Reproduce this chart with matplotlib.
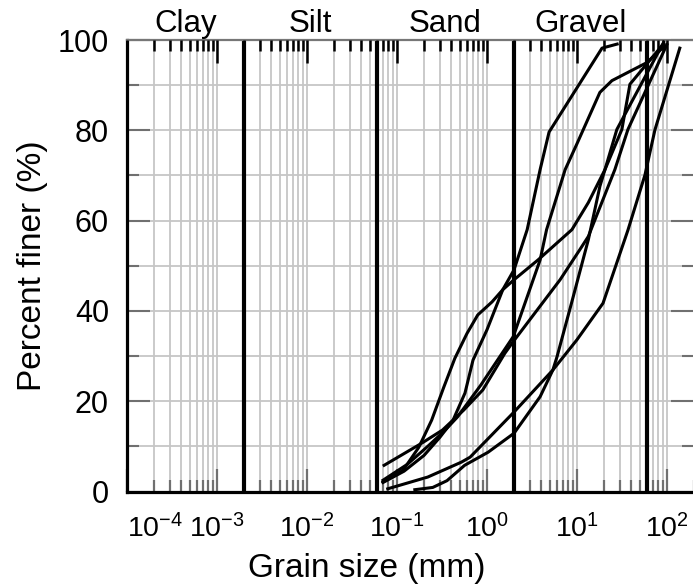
import matplotlib
matplotlib.use('Agg')
import matplotlib.pyplot as plt
from matplotlib.ticker import LogLocator, NullFormatter, MultipleLocator, FixedLocator, LogFormatterSciNotation

plt.rcParams['font.family'] = ['Liberation Sans', 'DejaVu Sans']
plt.rcParams['mathtext.default'] = 'regular'
plt.rcParams['axes.unicode_minus'] = False

# ---------------- data (grain size in mm, percent finer) ----------------
A_d = [0.07, 0.12, 0.2, 0.3, 0.42, 0.57, 0.70, 1.0, 1.5, 2.0, 2.8, 3.9, 4.9, 19, 28]
A_p = [2.0, 4.5, 8.0, 12.0, 15.8, 21.8, 29.1, 35.8, 44.7, 49.1, 58, 71.3, 79.6, 98.2, 99.1]

B_d = [0.07, 0.13, 0.22, 0.34, 0.47, 0.85, 1.96, 3.9, 4.6, 7.4, 10, 18, 24.5, 60, 95]
B_p = [2.5, 6.0, 10.0, 13.5, 16.5, 23.5, 34.3, 51.3, 58, 71.3, 77, 88.4, 91, 95, 98.7]

C_d = [0.07, 0.117, 0.175, 0.243, 0.33, 0.44, 0.6, 0.79, 1.14, 1.5, 2.0, 3.7, 8.8, 13.4, 20.5, 31.6, 38.8, 92]
C_p = [2.1, 4.7, 9.8, 15.8, 23.0, 29.5, 35.0, 39.1, 42.0, 44.7, 46.9, 51.3, 58.0, 64.0, 71.3, 80.2, 90.2, 99.2]

D_d = [0.072, 0.185, 0.32, 0.55, 0.9, 1.58, 1.96, 6.5, 10.8, 13.4, 26.4, 36.9, 100]
D_p = [5.8, 10.6, 13.6, 18.0, 22.5, 30.6, 33.2, 46.9, 53.6, 56.5, 71.3, 80.2, 99.0]

F_d = [0.158, 0.25, 0.36, 0.565, 1.03, 2.0, 3.9, 5.4, 6.0, 8.7, 13.4, 18, 20.5, 27.8, 92]
F_p = [0.4, 0.9, 2.4, 5.8, 8.7, 12.9, 21.0, 26.9, 29.8, 41.7, 55.8, 67.6, 71.3, 80.2, 99.5]

G_d = [0.079, 0.22, 0.52, 0.65, 2.0, 5.4, 10, 19.5, 36.9, 57, 73.6, 139]
G_p = [0.6, 3.2, 6.5, 7.6, 17.6, 26.9, 33.6, 41.7, 57.9, 70.1, 80.1, 98.2]

curves = [(A_d, A_p), (B_d, B_p), (C_d, C_p), (D_d, D_p), (F_d, F_p), (G_d, G_p)]

boundaries = [0.002, 0.06, 2, 60]
classes = ['Clay', 'Silt', 'Sand', 'Gravel']
class_centres = [(1e-4 * 0.002) ** 0.5, (0.002 * 0.06) ** 0.5, (0.06 * 2) ** 0.5, (2 * 60) ** 0.5]

x_ticks = [1e-4, 1e-3, 1e-2, 1e-1, 1e0, 1e1, 1e2]
y_ticks = [0, 20, 40, 60, 80, 100]

# ---------------- figure ----------------
W, H = 693, 588
fig = plt.figure(figsize=(W / 100, H / 100), dpi=100)
L, R, T, Bm = 127, 694, 40, 491.5
ax = fig.add_axes([L / W, 1 - Bm / H, (R - L) / W, (Bm - T) / H])

ax.set_xscale('log')
ax.set_xlim(1e-4, 200)
ax.set_ylim(0, 100)

ax.xaxis.set_major_locator(FixedLocator(x_ticks))
ax.xaxis.set_major_formatter(LogFormatterSciNotation())
ax.xaxis.set_minor_locator(LogLocator(base=10, subs=range(2, 10), numticks=100))
ax.xaxis.set_minor_formatter(NullFormatter())
ax.yaxis.set_major_locator(FixedLocator(y_ticks))
ax.yaxis.set_minor_locator(MultipleLocator(10))

grid_c = '#c6c6c6'
ax.grid(True, which='both', axis='both', color=grid_c, lw=1.3, zorder=0)
ax.set_axisbelow(True)

tick_grey = '#707070'
ax.tick_params(axis='y', which='both', left=True, right=True, direction='in',
               color=tick_grey, width=1.5, labelsize=22, pad=13)
ax.tick_params(axis='y', which='major', length=16.5)
ax.tick_params(axis='y', which='minor', length=8.6)
ax.tick_params(axis='x', which='both', bottom=True, top=False, direction='in',
               color=tick_grey, width=1.6, labelsize=20.5, pad=16)
ax.tick_params(axis='x', which='major', length=16.5)
ax.tick_params(axis='x', which='minor', length=8.6)

# first x label starts at the axis edge
ax.xaxis.get_major_ticks()[0].label1.set_horizontalalignment('left')

ax.spines['left'].set_linewidth(2.3)
ax.spines['bottom'].set_linewidth(2.3)
ax.spines['top'].set_color('#777777')
ax.spines['top'].set_linewidth(1.6)
ax.spines['right'].set_linewidth(1.6)

# top ticks in black via twin axis
ax2 = ax.twiny()
ax2.set_xscale('log')
ax2.set_xlim(ax.get_xlim())
ax2.xaxis.set_major_locator(LogLocator(base=10, numticks=20))
ax2.xaxis.set_minor_locator(LogLocator(base=10, subs=range(2, 10), numticks=100))
ax2.xaxis.set_major_formatter(NullFormatter())
ax2.xaxis.set_minor_formatter(NullFormatter())
ax2.tick_params(axis='x', which='both', top=True, bottom=False, direction='in',
                color='black', width=1.8, labeltop=False)
ax2.tick_params(axis='x', which='major', length=16.5)
ax2.tick_params(axis='x', which='minor', length=8.0)
for s in ax2.spines.values():
    s.set_visible(False)
ax2.patch.set_visible(False)

# class boundaries
for b in boundaries:
    ax.axvline(b, color='black', lw=3.0, zorder=2)

# grading curves
for d, p in curves:
    ax.plot(d, p, color='black', lw=2.2, zorder=3, solid_joinstyle='round')

# class labels
for name, c in zip(classes, class_centres):
    ax.text(c, 1.0177, name, transform=ax.get_xaxis_transform(), ha='center',
            va='baseline', fontsize=22.5)

ax.set_xlabel('Grain size (mm)', fontsize=24)
ax.xaxis.set_label_coords(0.4224, -0.136)
ax.set_ylabel('Percent finer (%)', fontsize=24)
ax.yaxis.set_label_coords(-0.139, 0.5)

fig.savefig('out.png', dpi=100)
